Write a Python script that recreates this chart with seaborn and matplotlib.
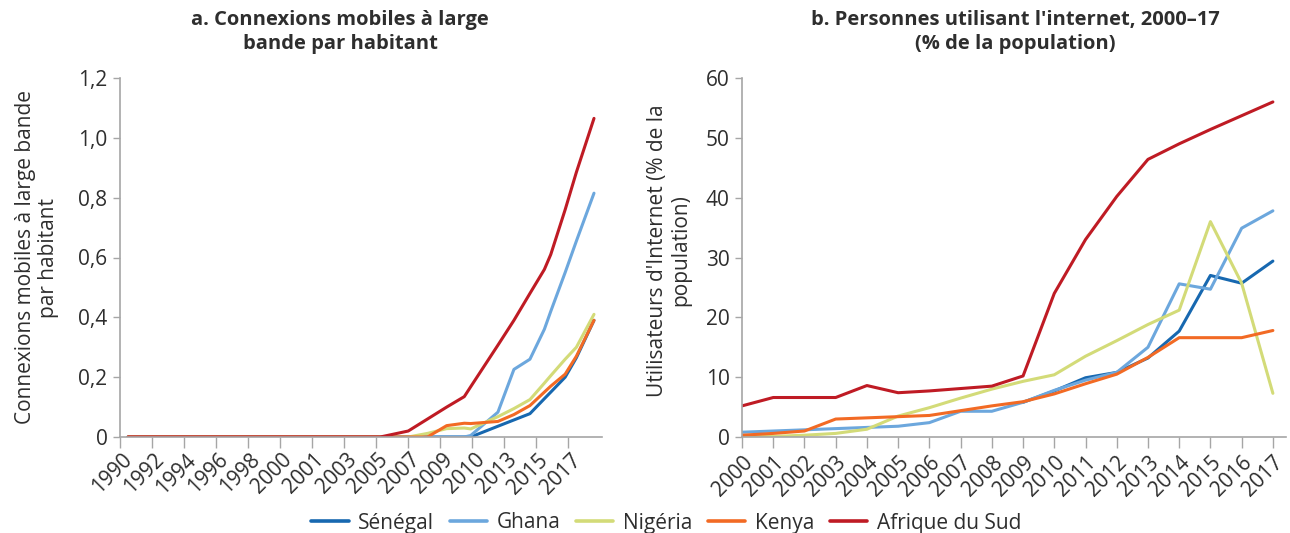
import numpy as np
import pandas as pd
import matplotlib
matplotlib.use("Agg")
import matplotlib.pyplot as plt
import seaborn as sns
from matplotlib.ticker import FixedLocator, FuncFormatter

# ---------------- data ----------------
countries = ["Sénégal", "Ghana", "Nigéria", "Kenya", "Afrique du Sud"]
colors = ["#1768B0", "#6CA7DD", "#D3DB78", "#F26A24", "#BF1B24"]

# Panel a: position along the category axis (category units) and values
a_tick_labels = ["1990", "1992", "1994", "1996", "1998", "2000", "2001", "2003",
                 "2005", "2007", "2009", "2010", "2013", "2015", "2017"]
a_pos = [0, 15.75, 17.5, 18.7, 19.9, 21, 21.4, 23.1, 24.1, 25.1, 26, 26.4, 27.3, 28, 29.1]
a_senegal = [0, 0, 0, 0, 0, 0, 0, 0.036, 0.057, 0.078, 0.128, 0.15, 0.20, 0.265, 0.39]
a_ghana = [0, 0, 0, 0, 0, 0, 0.005, 0.083, 0.226, 0.26, 0.36, 0.42, 0.55, 0.655, 0.815]
a_nigeria = [0, 0, 0, 0.012, 0.028, 0.03, 0.027, 0.068, 0.095, 0.125, 0.18, 0.205, 0.26, 0.30, 0.41]
a_kenya = [0, 0, 0, 0, 0.038, 0.046, 0.045, 0.052, 0.075, 0.105, 0.15, 0.17, 0.21, 0.27, 0.39]
a_sa = [0, 0, 0.02, 0.06, 0.10, 0.135, 0.168, 0.307, 0.39, 0.48, 0.56, 0.61, 0.76, 0.885, 1.065]

# Panel b: internet users (% of population), 2000-2017
b_years = list(range(2000, 2018))
b_senegal = [np.nan] * 9 + [5.8, 7.7, 9.9, 10.8, 13.2, 17.7, 27.0, 25.7, 29.4]
b_ghana = [0.8, 1.0, 1.2, 1.4, 1.6, 1.8, 2.4, 4.3, 4.3, 5.8, 7.8, 9.5, 10.8, 15.0, 25.6, 24.7, 34.9, 37.8]
b_nigeria = [0.06, 0.1, 0.3, 0.6, 1.3, 3.5, 4.9, 6.5, 8.0, 9.3, 10.4, 13.5, 16.1, 18.8, 21.2, 36.0, 25.7, 7.3]
b_kenya = [0.3, 0.6, 1.0, 3.0, 3.2, 3.4, 3.6, 4.4, 5.2, 5.9, 7.2, 8.9, 10.5, 13.3, 16.6, 16.6, 16.6, 17.8]
b_sa = [5.2, 6.6, 6.6, 6.6, 8.6, 7.4, 7.7, 8.1, 8.5, 10.2, 24.0, 33.0, 40.2, 46.4, 49.0, 51.4, 53.7, 56.0]

# ---------------- frames ----------------
a_series = [a_senegal, a_ghana, a_nigeria, a_kenya, a_sa]
b_series = [b_senegal, b_ghana, b_nigeria, b_kenya, b_sa]
df_a = pd.concat([pd.DataFrame({"x": a_pos, "y": v, "pays": c}) for c, v in zip(countries, a_series)],
                 ignore_index=True)
df_b = pd.concat([pd.DataFrame({"x": b_years, "y": v, "pays": c}) for c, v in zip(countries, b_series)],
                 ignore_index=True).dropna().reset_index(drop=True)
palette = dict(zip(countries, colors))

# ---------------- style ----------------
sns.set_theme(style="white")
plt.rcParams["font.family"] = ["Open Sans", "DejaVu Sans"]
text_col = "#2E2E2E"
spine_col = "#A6A6A6"
plt.rcParams.update({"text.color": text_col, "axes.labelcolor": text_col,
                     "xtick.color": text_col, "ytick.color": text_col})

fig = plt.figure(figsize=(12.9, 5.33), dpi=100)
W, H = 1290, 533
axA = fig.add_axes([120 / W, 1 - 437 / H, (602 - 120) / W, (437 - 78) / H])
axB = fig.add_axes([742 / W, 1 - 437 / H, (1286 - 742) / W, (437 - 78) / H])

lw = 2.2
sns.lineplot(data=df_a, x="x", y="y", hue="pays", hue_order=countries, palette=palette,
             ax=axA, linewidth=lw, legend=False, sort=True)
sns.lineplot(data=df_b, x="x", y="y", hue="pays", hue_order=countries, palette=palette,
             ax=axB, linewidth=lw, legend=True, sort=True)

tick_fs = 15
for ax in (axA, axB):
    sns.despine(ax=ax)
    ax.spines["left"].set_color(spine_col)
    ax.spines["bottom"].set_color(spine_col)
    ax.spines["left"].set_linewidth(1.2)
    ax.spines["bottom"].set_linewidth(1.2)
    ax.tick_params(axis="y", which="major", direction="out", length=5, width=1.0,
                   color=spine_col, labelsize=tick_fs, pad=4, left=True)
    ax.set_xlabel("")

# Panel a axes
axA.set_ylim(0, 1.2)
axA.set_xlim(-0.5, 29.6)
axA.yaxis.set_major_locator(FixedLocator([0, 0.2, 0.4, 0.6, 0.8, 1.0, 1.2]))
axA.yaxis.set_major_formatter(FuncFormatter(lambda v, p: "0" if abs(v) < 1e-9 else f"{v:.1f}".replace(".", ",")))
axA.set_xticks(np.arange(-0.4, 28.5, 2))
axA.set_xticklabels(a_tick_labels, rotation=45, ha="right", rotation_mode="anchor")
axA.set_xticks(np.arange(-0.5, 29, 2), minor=True)
axA.tick_params(axis="x", which="major", length=0, labelsize=tick_fs, pad=9)
axA.tick_params(axis="x", which="minor", length=8, width=1.0, color=spine_col, bottom=True)
axA.set_ylabel("Connexions mobiles à large bande\npar habitant", fontsize=15, linespacing=1.1)
axA.yaxis.set_label_coords(-0.127, 0.5)

# Panel b axes
axB.set_ylim(0, 60)
axB.set_xlim(2000, 2017.42)
axB.yaxis.set_major_locator(FixedLocator(list(range(0, 61, 10))))
axB.set_xticks(b_years)
axB.set_xticklabels([str(y) for y in b_years], rotation=45, ha="right", rotation_mode="anchor")
axB.tick_params(axis="x", which="major", length=8, width=1.0, color=spine_col,
                labelsize=tick_fs, pad=3, bottom=True)
axB.set_ylabel("Utilisateurs d'Internet (% de la\npopulation)", fontsize=15, linespacing=1.1)
axB.yaxis.set_label_coords(-0.094, 0.52)

# Titles
fig.text(340 / W, 1 - 10 / H, "a. Connexions mobiles à large\nbande par habitant",
         ha="center", va="top", fontsize=14.5, fontweight="bold", linespacing=1.3)
fig.text(1015 / W, 1 - 10 / H, "b. Personnes utilisant l'internet, 2000–17\n(% de la population)",
         ha="center", va="top", fontsize=14.5, fontweight="bold", linespacing=1.3)

# Legend
handles, labels = axB.get_legend_handles_labels()
axB.get_legend().remove()
for h in handles:
    h.set_linewidth(2.6)
fig.legend(handles, labels, loc="center", bbox_to_anchor=(666 / W, 10 / H), ncol=5,
           frameon=False, fontsize=15, handlelength=1.8, handletextpad=0.45,
           columnspacing=0.75, borderaxespad=0)

fig.savefig("out.png", dpi=100)
